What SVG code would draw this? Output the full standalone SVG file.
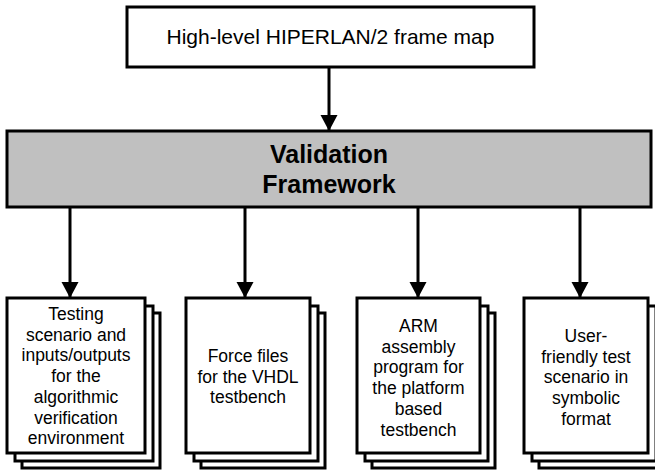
<svg xmlns="http://www.w3.org/2000/svg" width="655" height="471" viewBox="0 0 655 471">
<defs>
<marker id="ah" markerUnits="userSpaceOnUse" markerWidth="18" markerHeight="18" refX="16" refY="8.5" orient="auto">
<path d="M0,0 L16,8.5 L0,17 Z" fill="#000"/>
</marker>
<style>
.box{fill:#fff;stroke:#000;stroke-width:3}
.gray{fill:#c0c0c0;stroke:#000;stroke-width:3}
.t{font-family:"Liberation Sans",Arial,sans-serif;font-size:17.5px;fill:#000;text-anchor:middle}
.tb{font-family:"Liberation Sans",Arial,sans-serif;font-size:25px;font-weight:bold;fill:#000;text-anchor:middle}
.c{stroke:#000;stroke-width:3;fill:none;marker-end:url(#ah)}
</style>
</defs>
<rect width="655" height="471" fill="#fff"/>
<g id="frame-map">
<rect class="box" x="127" y="7" width="407" height="60"/>
<text class="t" x="330.5" y="44" style="font-size:21px">High-level HIPERLAN/2 frame map</text>
</g>
<g id="validation-framework">
<rect class="gray" x="7" y="131" width="644" height="76"/>
<text class="tb" x="329" y="163">Validation</text>
<text class="tb" x="329" y="193">Framework</text>
</g>
<g id="doc-algorithmic">
<rect class="box" x="22" y="313" width="138" height="155"/>
<rect class="box" x="15" y="306" width="138" height="155"/>
<rect class="box" x="7" y="298" width="138" height="155"/>
<text class="t" x="76" y="320">Testing</text>
<text class="t" x="76" y="340.7">scenario and</text>
<text class="t" x="76" y="361.4">inputs/outputs</text>
<text class="t" x="76" y="382.1">for the</text>
<text class="t" x="76" y="402.8">algorithmic</text>
<text class="t" x="76" y="423.5">verification</text>
<text class="t" x="76" y="444.2">environment</text>
</g>
<g id="doc-vhdl">
<rect class="box" x="201" y="313" width="124" height="155"/>
<rect class="box" x="194" y="306" width="124" height="155"/>
<rect class="box" x="186" y="298" width="124" height="155"/>
<text class="t" x="248" y="362">Force files</text>
<text class="t" x="248" y="382.7">for the VHDL</text>
<text class="t" x="248" y="403.4">testbench</text>
</g>
<g id="doc-arm">
<rect class="box" x="372" y="313" width="123" height="155"/>
<rect class="box" x="365" y="306" width="123" height="155"/>
<rect class="box" x="357" y="298" width="123" height="155"/>
<text class="t" x="418.5" y="332">ARM</text>
<text class="t" x="418.5" y="352.7">assembly</text>
<text class="t" x="418.5" y="373.4">program for</text>
<text class="t" x="418.5" y="394.1">the platform</text>
<text class="t" x="418.5" y="414.8">based</text>
<text class="t" x="418.5" y="435.5">testbench</text>
</g>
<g id="doc-symbolic">
<rect class="box" x="539" y="313" width="124" height="155"/>
<rect class="box" x="532" y="306" width="124" height="155"/>
<rect class="box" x="524" y="298" width="124" height="155"/>
<text class="t" x="586" y="342">User-</text>
<text class="t" x="586" y="362.7">friendly test</text>
<text class="t" x="586" y="383.4">scenario in</text>
<text class="t" x="586" y="404.1">symbolic</text>
<text class="t" x="586" y="424.8">format</text>
</g>
<g id="connectors">
<line class="c" x1="329" y1="67" x2="329" y2="131"/>
<line class="c" x1="70" y1="207" x2="70" y2="298"/>
<line class="c" x1="245" y1="207" x2="245" y2="298"/>
<line class="c" x1="418" y1="207" x2="418" y2="298"/>
<line class="c" x1="580" y1="207" x2="580" y2="298"/>
</g>
</svg>
